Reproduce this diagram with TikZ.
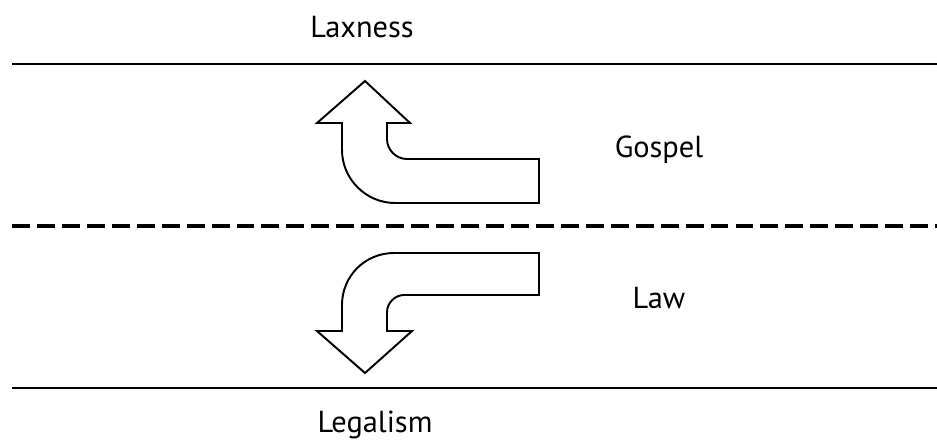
\documentclass[tikz,border=0pt]{standalone}
\usepackage{fontspec}
\setmainfont{PT Sans}
\usetikzlibrary{positioning}

\begin{document}
\begin{tikzpicture}[
    x=0.02cm, y=-0.02cm,
    label/.style={anchor=base, inner sep=0pt, font=\fontsize{17.3}{20}\selectfont},
    bound/.style={line width=1.4pt},
    middle/.style={line width=2pt, dash pattern=on 10.2pt off 4pt},
    bigarrow/.style={draw, line width=1.1pt, fill=white, line join=miter}
]
\useasboundingbox (0,0) rectangle (937,443);

% Lines
\draw[bound] (12,64) -- (937,64);
\draw[middle] (12,226) -- (937,226);
\draw[bound] (12,388) -- (937,388);

% Labels
\node[label] (laxness) at (362,37) {Laxness};
\node[label] (gospel) at (659,157) {Gospel};
\node[label] (law) at (659,308) {Law};
\node[label] (legalism) at (375,432) {Legalism};

% Upper arrow
\path[bigarrow] (539,159) -- (407,159) .. controls (396,159) and (387,150) .. (387,139)
    -- (387,123) -- (410,123) -- (365,81) -- (317,123) -- (342,123) -- (342,150)
    .. controls (342,179) and (366,203) .. (395,203) -- (539,203) -- cycle;

% Lower arrow
\path[bigarrow] (539,253) -- (394,253) .. controls (365,253) and (342,276) .. (342,305)
    -- (342,331) -- (317,331) -- (365,373) -- (412,331) -- (387,331) -- (387,312)
    .. controls (387,303) and (395,295) .. (404,295) -- (539,295) -- cycle;

\end{tikzpicture}
\end{document}
